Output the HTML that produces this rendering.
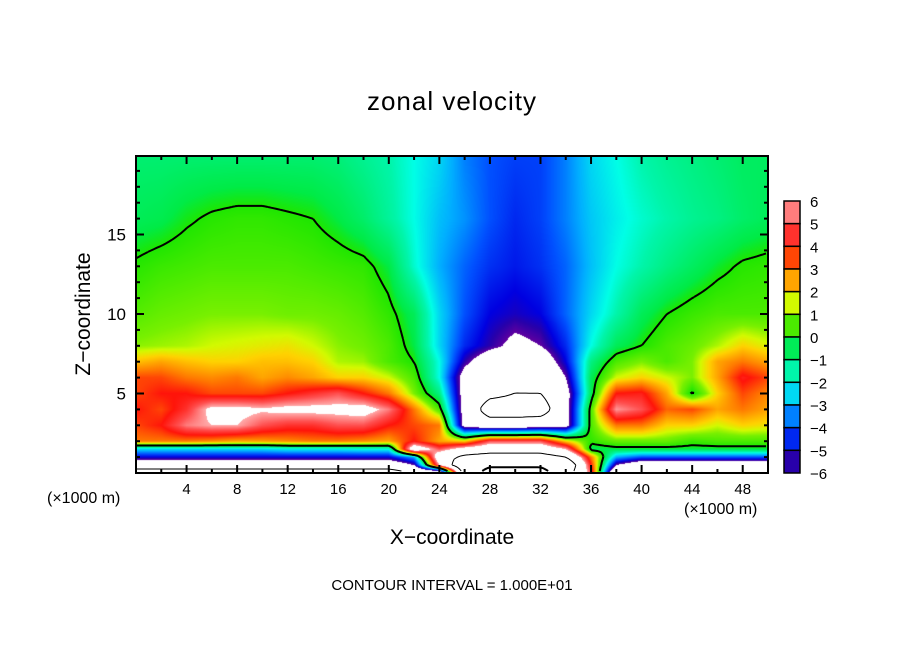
<!DOCTYPE html>
<html><head><meta charset="utf-8">
<style>
html,body{margin:0;padding:0;background:#fff;}
body{width:904px;height:654px;position:relative;overflow:hidden;font-family:"Liberation Sans","DejaVu Sans",sans-serif;}
.t{position:absolute;color:#000;white-space:nowrap;}
</style></head>
<body>
<div class="t" style="left:0;width:904px;top:86px;text-align:center;font-size:26px;letter-spacing:1px;">zonal velocity</div>
<div class="t" style="left:84px;top:314px;font-size:21px;transform:translate(-50%,-50%) rotate(-90deg);">Z−coordinate</div>
<div class="t" style="left:0;width:904px;top:526px;text-align:center;font-size:21px;">X−coordinate</div>
<div class="t" style="left:47px;top:490px;font-size:16px;">(×1000 m)</div>
<div class="t" style="left:684px;top:501px;font-size:16px;">(×1000 m)</div>
<div class="t" style="left:0;width:904px;top:577px;text-align:center;font-size:15px;">CONTOUR INTERVAL = 1.000E+01</div>
<canvas id="field" width="632" height="317" style="position:absolute;left:136px;top:156px;"></canvas>
<svg id="ov" width="904" height="654" style="position:absolute;left:0;top:0;"></svg>
<script>
const xCoords=[0,2,4,6,8,10,12,14,16,18,20,22,24,26,28,30,32,34,36,38,40,42,44,46,48,50];
const zCoords=[0,0.5,1,1.5,2,3,4,5,6,7,8,10,13,16,20];
const uRows=[
[-12,-12,-12,-12,-12,-12,-12,-12,-12,-12,-12,-10,-10,12,25,25,25,12,5,-10,-10,-10,-10,-10,-10,-10],
[-8,-8,-8,-8,-8,-8,-8,-8,-8,-8,-8,-6,6,14,18,18,18,14,4,-6,-8,-8,-8,-8,-8,-8],
[-5,-5,-5,-5,-5,-5,-5,-5,-5,-5,-5,-3,8,11,12,12,12,10,3,-3,-4,-4,-4,-4,-4,-4],
[-2.5,-2.5,-2.5,-2.5,-2.5,-2.5,-2.2,-2.2,-2.2,-2,-2,8,5,7,8,8,8,6,-0.5,-0.3,-0.3,-0.3,-0.3,-0.3,-0.3,-0.3],
[3,3,3,2.8,2.5,2.6,2.8,3,3,2.8,2.5,4,2.5,2,5,5,5,2,0.2,0.8,0.8,0.8,0.3,0.5,0.5,0.5],
[3.5,4,5.5,6,6,5,4.5,4.5,5,5,4,3.5,3,-7,-8,-8,-7.5,-7,0.5,3,3,2,2,1.5,2,1.8],
[4,3.5,4.5,6.5,6.5,6.2,6.5,6.5,6.5,6.8,5.5,3,0.5,-7,-12,-12,-12,-7,0.5,5.8,5,3.2,3.5,2.5,3,2.5],
[3.5,4,4,3.5,3.5,3.5,4,4.5,5,4,3,1,-1,-7,-9,-10,-10,-7,-0.5,4,4.2,2.5,-0.2,2,3.5,2.8],
[3.5,3.5,3,2.8,3,2.5,2.8,2.5,2,2,1.5,0.5,-2,-7,-9,-10,-9,-6,-0.5,1.5,2,1.5,1,2.5,4.2,3.5],
[2.2,2.5,2.2,2,2,2.2,2.2,2,1.3,1.2,0.5,0,-2,-5.5,-7.5,-8,-7.5,-5,-1,0.5,1,0.5,1,2.5,3,2.5],
[1.1,1.2,1.3,1.5,1.6,1.7,1.8,1.5,1.1,0.9,0.5,-0.3,-2.5,-4.5,-5.5,-6.5,-6,-4.5,-2,-0.5,0,0.5,0.8,1.3,2,1.6],
[0.6,0.8,0.9,1,1,1,0.9,0.9,0.8,0.6,0.2,-0.5,-2.5,-4,-5,-5.3,-5,-3.8,-2.5,-1.5,-0.5,0,0.3,0.5,0.5,0.5],
[0.1,0.3,0.4,0.5,0.5,0.5,0.5,0.4,0.3,0.2,-0.3,-1.8,-3,-3.8,-4.4,-4.7,-4.4,-3.8,-2.8,-2,-1.5,-1,-0.6,-0.2,0.1,0.2],
[-0.5,-0.4,-0.1,0.1,0.2,0.2,0.1,0,-0.3,-0.7,-1.3,-2,-2.8,-3.3,-4,-4.5,-4.2,-3.5,-2.7,-2.2,-1.8,-1.5,-1.2,-1,-0.7,-0.5],
[-0.8,-0.8,-0.8,-0.8,-0.8,-0.8,-0.8,-0.8,-0.9,-1.2,-1.5,-2,-2.5,-3.5,-4,-4.2,-4.2,-3.5,-2.5,-2,-1.5,-1.2,-1,-0.8,-0.6,-0.6]
];
const cbLabels=[6,5,4,3,2,1,0,-1,-2,-3,-4,-5,-6];

const PX0=136,PX1=768,PY0=156,PY1=473;
const sx=x=>PX0+x*12.64;
const sz=z=>PY1-z*15.9;
const ix=px=>(px-PX0)/12.64;
const iz=py=>(PY1-py)/15.9;

function interp(x,z){
  let i=Math.min(Math.max(Math.floor(x/2),0),xCoords.length-2);
  let tx=Math.min(Math.max((x-xCoords[i])/(xCoords[i+1]-xCoords[i]),0),1);
  let j=0;while(j<zCoords.length-2&&z>zCoords[j+1])j++;
  let tz=Math.min(Math.max((z-zCoords[j])/(zCoords[j+1]-zCoords[j]),0),1);
  const a=uRows[j][i],b=uRows[j][i+1],c=uRows[j+1][i],d=uRows[j+1][i+1];
  return (a*(1-tx)+b*tx)*(1-tz)+(c*(1-tx)+d*tx)*tz;
}
const stops=[[-6,[96,0,160]],[-5.5,[40,0,170]],[-5,[0,0,225]],[-4,[0,80,255]],[-3,[0,176,255]],[-2,[0,255,230]],[-1.5,[0,245,170]],[-1,[0,240,130]],[-0.3,[0,235,70]],[0,[30,230,0]],[1,[120,240,0]],[1.5,[210,250,0]],[2,[255,210,0]],[3,[255,120,0]],[4,[255,20,10]],[5,[255,80,80]],[6,[255,170,170]]];
function color(v){
  if(v>6||v<-6)return [255,255,255];
  for(let k=0;k<stops.length-1;k++){
    if(v<=stops[k+1][0]){const t=(v-stops[k][0])/(stops[k+1][0]-stops[k][0]);const a=stops[k][1],b=stops[k+1][1];return [a[0]+(b[0]-a[0])*t,a[1]+(b[1]-a[1])*t,a[2]+(b[2]-a[2])*t];}
  }
  return stops[stops.length-1][1];
}
const cv=document.getElementById('field');const ctx=cv.getContext('2d');
const W=632,H=317;const img=ctx.createImageData(W,H);
for(let py=0;py<H;py++)for(let px=0;px<W;px++){
  const c=color(interp(ix(PX0+px+0.5),iz(PY0+py+0.5)));const o=(py*W+px)*4;
  img.data[o]=c[0];img.data[o+1]=c[1];img.data[o+2]=c[2];img.data[o+3]=255;}
ctx.putImageData(img,0,0);

const NS='http://www.w3.org/2000/svg';const ov=document.getElementById('ov');
function mk(tag,attrs){const e=document.createElementNS(NS,tag);for(const k in attrs)e.setAttribute(k,attrs[k]);ov.appendChild(e);return e;}
function contour(level,name,stroke,width,dash){
  const st=3;const nx=Math.floor(W/st)+1,ny=Math.floor(H/st)+1;const g=[];
  for(let j=0;j<ny;j++){g[j]=[];for(let i=0;i<nx;i++)g[j][i]=interp(ix(PX0+i*st),iz(PY0+j*st))-level;}
  let d='';
  const pt=(x1,y1,v1,x2,y2,v2)=>{const t=v1/(v1-v2);return [PX0+(x1+(x2-x1)*t)*st,PY0+(y1+(y2-y1)*t)*st];};
  for(let j=0;j<ny-1;j++)for(let i=0;i<nx-1;i++){
    const a=g[j][i],b=g[j][i+1],c=g[j+1][i+1],e=g[j+1][i];
    const ps=[];
    if((a>0)!==(b>0))ps.push(pt(i,j,a,i+1,j,b));
    if((b>0)!==(c>0))ps.push(pt(i+1,j,b,i+1,j+1,c));
    if((c>0)!==(e>0))ps.push(pt(i+1,j+1,c,i,j+1,e));
    if((e>0)!==(a>0))ps.push(pt(i,j+1,e,i,j,a));
    for(let k=0;k+1<ps.length;k+=2)d+='M'+ps[k][0].toFixed(1)+' '+ps[k][1].toFixed(1)+'L'+ps[k+1][0].toFixed(1)+' '+ps[k+1][1].toFixed(1);
  }
  const p=mk('path',{d:d,fill:'none',stroke:stroke,'stroke-width':width});
  if(dash)p.setAttribute('stroke-dasharray',dash);
  
  
}
contour(0,'zero-contour','#000',2,null);
contour(10,'contour-plus-10','#000',1,null);
contour(20,'contour-plus-20','#000',2,null);
contour(-10,'contour-minus-10','#000',1,'6,4');
const fr=mk('rect',{x:PX0,y:PY0,width:PX1-PX0,height:PY1-PY0,fill:'none',stroke:'#000','stroke-width':2});


for(let x=2;x<50;x+=2){const major=x%4===0;const L=major?8:4;const X=sx(x);
  const t1=mk('line',{x1:X,y1:PY1,x2:X,y2:PY1-L,stroke:'#000','stroke-width':2});
  
  
  const t2=mk('line',{x1:X,y1:PY0,x2:X,y2:PY0+L,stroke:'#000','stroke-width':2});
  
  
  if(major){const tx=mk('text',{x:X,y:494,'text-anchor':'middle','font-size':15,'font-family':'Liberation Sans, sans-serif'});tx.textContent=x;
    
    }
}
for(let z=1;z<20;z++){const major=z%5===0;const L=major?8:4;const Y=sz(z);
  const t1=mk('line',{x1:PX0,y1:Y,x2:PX0+L,y2:Y,stroke:'#000','stroke-width':2});
  
  
  const t2=mk('line',{x1:PX1,y1:Y,x2:PX1-L,y2:Y,stroke:'#000','stroke-width':2});
  
  
  if(major){const tx=mk('text',{x:126,y:Y+6,'text-anchor':'end','font-size':17,'font-family':'Liberation Sans, sans-serif'});tx.textContent=z;
    
    }
}
const CB0=201,CB1=473,bh=(CB1-CB0)/(cbLabels.length-1);
for(let k=0;k<cbLabels.length-1;k++){
  const mid=(cbLabels[k]+cbLabels[k+1])/2;const c=color(mid);
  const r=mk('rect',{x:784,y:CB0+k*bh,width:16,height:bh,fill:'rgb('+c.map(Math.round).join(',')+')',stroke:'#000','stroke-width':1.5});
  
  
}
cbLabels.forEach((v,k)=>{const tx=mk('text',{x:810,y:CB0+k*bh+6,'font-size':15,'font-family':'Liberation Sans, sans-serif'});tx.textContent=v<0?'−'+(-v):String(v);
  
  });
</script>
</body></html>
